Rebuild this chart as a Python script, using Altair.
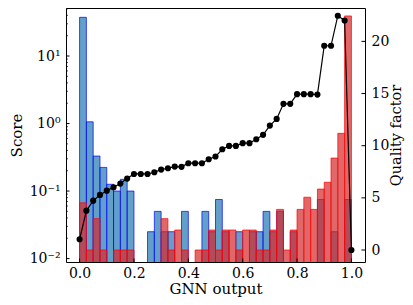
import altair as alt
import pandas as pd

# ---- data ----
edges = [round(i * 0.025, 3) for i in range(41)]  # 40 bins on [0, 1]

blue_vals = [37.4, 1.06, 0.33, 0.224, 0.126, 0.1, 0.149, 0.1, 0, 0,
             0.025, 0.05, 0.025, 0.025, 0, 0.05, 0, 0, 0.05, 0.025,
             0.075, 0.025, 0, 0.025, 0, 0.025, 0.025, 0.05, 0.025, 0.05,
             0, 0.025, 0, 0, 0, 0.075, 0, 0.025, 0, 0.075]

red_vals = [0.067, 0.0134, 0.039, 0.0134, 0, 0.0134, 0.0134, 0.0134, 0, 0,
            0, 0, 0.039, 0.0134, 0.0265, 0.0134, 0, 0.0134, 0.0134, 0.0265,
            0.0134, 0.0265, 0.0265, 0.0134, 0.0265, 0.0265, 0.0134, 0.0134, 0.0265, 0.0535,
            0.0134, 0.0265, 0.0535, 0.081, 0.0535, 0.107, 0.135, 0.308, 0.716, 39.2]

quality = [1.03, 3.77, 4.73, 5.28, 5.69, 6.02, 6.37, 6.85, 7.29, 7.29,
           7.29, 7.45, 7.71, 7.84, 8.0, 7.97, 8.32, 8.32, 8.32, 8.7,
           8.96, 9.66, 9.98, 9.98, 10.24, 10.24, 10.62, 11.04, 11.93, 12.57,
           14.01, 14.01, 14.94, 14.94, 14.94, 14.9, 19.58, 19.58, 22.46, 22.0,
           0.0]

x_ticks = [0.0, 0.2, 0.4, 0.6, 0.8, 1.0]
y_major = [0.01, 0.1, 1, 10]
y_minor = [0.02, 0.03, 0.04, 0.05, 0.06, 0.07, 0.08, 0.09,
           0.2, 0.3, 0.4, 0.5, 0.6, 0.7, 0.8, 0.9,
           2, 3, 4, 5, 6, 7, 8, 9,
           20, 30, 40, 50]
q_ticks = [0, 5, 10, 15, 20]

W, H = 299, 254
FONT = "DejaVu Serif"

rows = []
for i in range(40):
    rows.append({"x0": edges[i], "x1": edges[i + 1], "v": blue_vals[i], "s": "blue"})
for i in range(40):
    rows.append({"x0": edges[i], "x1": edges[i + 1], "v": red_vals[i], "s": "red"})
hist = pd.DataFrame(rows)
line_df = pd.DataFrame({"x": edges, "q": quality})

xscale = alt.Scale(domain=[-0.05, 1.05], nice=False, zero=False)
yscale = alt.Scale(type="log", domain=[0.0089, 51.4], nice=False)
qscale = alt.Scale(domain=[-1.15, 23.2], nice=False, zero=False)

label_expr = ("datum.value >= 5 ? '10¹' : datum.value >= 0.5 ? '10⁰' : "
              "datum.value >= 0.05 ? '10⁻¹' : '10⁻²'")

x_axis = alt.Axis(values=x_ticks, format=".1f", tickSize=0, labelPadding=4,
                  domain=False, grid=False, title="GNN output", titlePadding=1)
y_axis = alt.Axis(values=y_major, labelExpr=label_expr, tickSize=0,
                  labelPadding=6, domain=False, grid=False, title="Score",
                  titlePadding=5)
q_axis = alt.Axis(orient="right", values=q_ticks, tickSize=0, labelPadding=6,
                  domain=False, grid=False, title="Quality factor",
                  titleAngle=270, titleBaseline="top", titlePadding=1,
                  titleFontSize=14.5)

blue = alt.Chart(hist).transform_filter("datum.s == 'blue' && datum.v > 0").mark_bar(
    fill="#1f77b4", fillOpacity=0.7, stroke="#0000ff", strokeOpacity=0.7,
    strokeWidth=1, clip=True
).encode(
    x=alt.X("x0:Q", scale=xscale, axis=x_axis),
    x2="x1:Q",
    y=alt.Y("v:Q", scale=yscale, axis=y_axis),
    y2=alt.datum(0.001),
)

red = alt.Chart(hist).transform_filter("datum.s == 'red' && datum.v > 0").mark_bar(
    fill="#d62728", fillOpacity=0.7, stroke="#ff0000", strokeOpacity=0.7,
    strokeWidth=1, clip=True
).encode(
    x=alt.X("x0:Q", scale=xscale, axis=x_axis),
    x2="x1:Q",
    y=alt.Y("v:Q", scale=yscale, axis=y_axis),
    y2=alt.datum(0.001),
)

xt = alt.Chart(pd.DataFrame({"t": x_ticks})).mark_rule(color="black", strokeWidth=1).encode(
    x=alt.X("t:Q", scale=xscale, axis=x_axis),
    y=alt.value(H), y2=alt.value(H - 3.5),
)
ymaj = alt.Chart(pd.DataFrame({"t": y_major})).mark_rule(color="black", strokeWidth=1).encode(
    y=alt.Y("t:Q", scale=yscale, axis=y_axis),
    x=alt.value(0), x2=alt.value(3.5),
)
ymin = alt.Chart(pd.DataFrame({"t": y_minor})).mark_rule(color="black", strokeWidth=0.7).encode(
    y=alt.Y("t:Q", scale=yscale, axis=y_axis),
    x=alt.value(0), x2=alt.value(2),
)

qline = alt.Chart(line_df).mark_line(color="black", strokeWidth=1.2).encode(
    x=alt.X("x:Q", scale=xscale, axis=x_axis),
    y=alt.Y("q:Q", scale=qscale, axis=q_axis),
)
qpts = alt.Chart(line_df).mark_circle(color="black", size=38, opacity=1).encode(
    x=alt.X("x:Q", scale=xscale, axis=x_axis),
    y=alt.Y("q:Q", scale=qscale, axis=q_axis),
)
qt = alt.Chart(pd.DataFrame({"t": q_ticks})).mark_rule(color="black", strokeWidth=1).encode(
    y=alt.Y("t:Q", scale=qscale, axis=q_axis),
    x=alt.value(W), x2=alt.value(W - 3.5),
)

left = alt.layer(blue, red, xt, ymaj, ymin)
right = alt.layer(qline, qpts, qt)

chart = alt.layer(left, right).resolve_scale(y="independent").properties(
    width=W, height=H,
    autosize=alt.AutoSizeParams(type="none"),
    padding={"left": 58, "top": 0, "right": 40, "bottom": 35},
).configure_axis(
    labelFont=FONT, titleFont=FONT, labelFontSize=14, titleFontSize=15,
    labelColor="black", titleColor="black", titleFontWeight="normal",
).configure_view(stroke="black", strokeWidth=1)

chart.save("out.html", embed_options={"renderer": "svg", "actions": False})
